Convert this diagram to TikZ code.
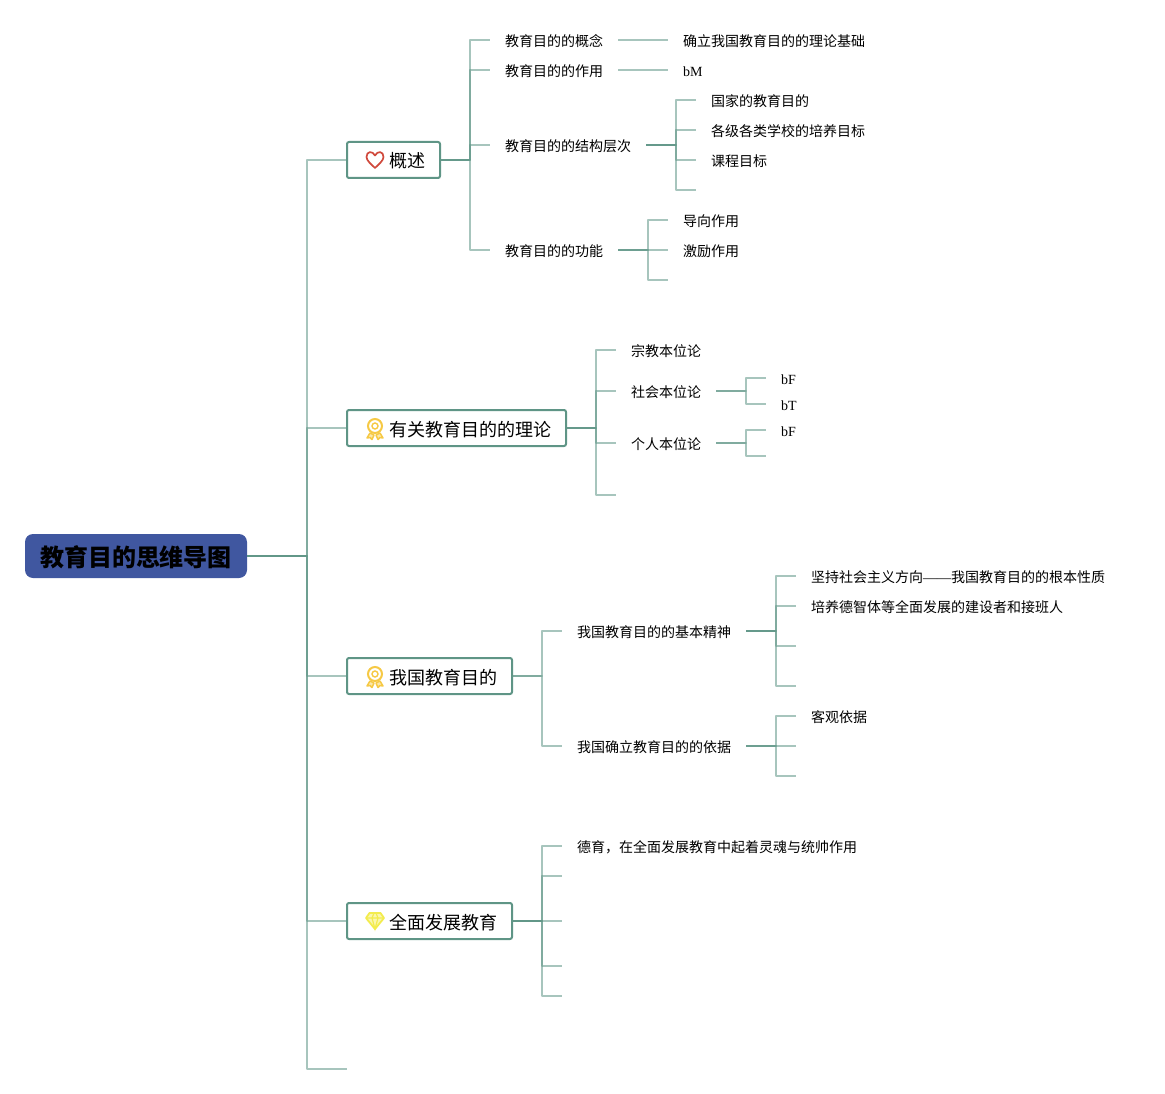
\documentclass[tikz,border=0pt]{standalone}
\usepackage{fontspec}
\setmainfont{Liberation Serif}
\newfontfamily\cjk{Noto Sans CJK SC}
\definecolor{linecol}{HTML}{5F9586}
\definecolor{rootcol}{HTML}{4057A0}
\definecolor{heartcol}{HTML}{D0493C}
\definecolor{medalcol}{HTML}{F6C945}
\definecolor{gemcol}{HTML}{F3EC4E}
\newcommand{\branches}[3]{\foreach \kid in {#3} \draw[branch] (#1.east) -- ++(#2,0) |- (\kid.west);}
\begin{document}
\begin{tikzpicture}[
	x=1pt, y=-1pt,
	branch/.style={draw=linecol, draw opacity=0.55, line width=1.5pt, line join=round},
	rootnode/.style={rectangle, fill=rootcol, rounded corners=8pt, anchor=west, minimum height=44pt, inner xsep=15pt, inner ysep=0pt, outer sep=0pt, text height=25pt, text depth=3.5pt, font=\cjk\bfseries\fontsize{24}{26}\selectfont},
	topicnode/.style={rectangle, draw=linecol, fill=white, line width=2pt, rounded corners=2pt, anchor=west, minimum height=36pt, inner xsep=15pt, inner ysep=0pt, outer sep=0pt, text height=17pt, text depth=1pt, execute at begin node={\hspace*{27pt}}, font=\cjk\fontsize{18}{20}\selectfont},
	leafnode/.style={anchor=west, inner xsep=15pt, inner ysep=0pt, outer sep=0pt, text height=14.5pt, text depth=1pt, font=\cjk\fontsize{14}{16}\selectfont},
	latinnode/.style={leafnode, font=\rmfamily\fontsize{14}{16}\selectfont},
	heart/.pic={\draw[heartcol, line width=1.7pt, line join=round] (0,8) .. controls (-4,4) and (-8.5,0.5) .. (-8.5,-3) .. controls (-8.5,-9) and (-2.5,-9.5) .. (0,-4.5) .. controls (2.5,-9.5) and (8.5,-9) .. (8.5,-3) .. controls (8.5,0.5) and (4,4) .. (0,8) -- cycle;},
	medal/.pic={\draw[medalcol, line width=2pt] (0,-3) circle (7pt);
		\draw[medalcol, line width=1.4pt] (0,-3) circle (3pt);
		\draw[medalcol, fill=medalcol!45, line width=1.5pt, line join=round] (-5,4) -- (-8,9) -- (-5,8.5) -- (-3,10.5) -- (-1,6) -- cycle;
		\draw[medalcol, fill=medalcol!45, line width=1.5pt, line join=round] (5,4) -- (8,9) -- (5,8.5) -- (3,10.5) -- (1,6) -- cycle;},
	gem/.pic={\draw[gemcol, fill=gemcol!45, line width=1.8pt, line join=round] (-5.5,-8) -- (5.5,-8) -- (9,-3) -- (0,8) -- (-9,-3) -- cycle;
		\draw[gemcol, line width=1.2pt] (-9,-3) -- (9,-3) (-3,-3) -- (0,8) -- (3,-3) (-3,-3) -- (-1,-8) (3,-3) -- (1,-8);},
	]
	
	\useasboundingbox (0,0) rectangle (1165,1094);
	
	%Nodes
	\node[rootnode]		(root)		at (25,556)		{教育目的思维导图};
	\node[topicnode]	(overview)	at (347,160)	{概述};
	\node[topicnode]	(theory)	at (347,428)	{有关教育目的的理论};
	\node[topicnode]	(ourgoal)	at (347,676)	{我国教育目的};
	\node[topicnode]	(fulldev)	at (347,921)	{全面发展教育};
	\coordinate			(tailend)	at (347,1069);
	
	\node[leafnode]		(concept)	at (490,40)		{教育目的的概念};
	\node[leafnode]		(effect)	at (490,70)		{教育目的的作用};
	\node[leafnode]		(levels)	at (490,145)	{教育目的的结构层次};
	\node[leafnode]		(function)	at (490,250)	{教育目的的功能};
	\node[leafnode]		(basis)		at (668,40)		{确立我国教育目的的理论基础};
	\node[latinnode]	(effectb)	at (668,70)		{bM};
	\node[leafnode]		(national)	at (696,100)	{国家的教育目的};
	\node[leafnode]		(school)	at (696,130)	{各级各类学校的培养目标};
	\node[leafnode]		(course)	at (696,160)	{课程目标};
	\coordinate			(levelend)	at (696,190);
	\node[leafnode]		(guide)		at (668,220)	{导向作用};
	\node[leafnode]		(inspire)	at (668,250)	{激励作用};
	\coordinate			(funcend)	at (668,280);
	
	\node[leafnode]		(religion)	at (616,350)	{宗教本位论};
	\node[leafnode]		(society)	at (616,391)	{社会本位论};
	\node[leafnode]		(person)	at (616,443)	{个人本位论};
	\coordinate			(theoryend)	at (616,495);
	\node[latinnode]	(socf)		at (766,378)	{bF};
	\node[latinnode]	(soct)		at (766,404)	{bT};
	\node[latinnode]	(perf)		at (766,430)	{bF};
	\coordinate			(perend)	at (766,456);
	
	\node[leafnode]		(spirit)	at (562,631)	{我国教育目的的基本精神};
	\node[leafnode]		(ground)	at (562,746)	{我国确立教育目的的依据};
	\node[leafnode]		(socialism)	at (796,576)	{坚持社会主义方向{\rmfamily ——}我国教育目的的根本性质};
	\node[leafnode]		(builder)	at (796,606)	{培养德智体等全面发展的建设者和接班人};
	\coordinate			(spiritc)	at (796,646);
	\coordinate			(spiritd)	at (796,686);
	\node[leafnode]		(objective)	at (796,716)	{客观依据};
	\coordinate			(groundb)	at (796,746);
	\coordinate			(groundc)	at (796,776);
	
	\node[leafnode]		(moral)		at (562,846)	{德育，在全面发展教育中起着灵魂与统帅作用};
	\coordinate			(devb)		at (562,876);
	\coordinate			(devc)		at (562,921);
	\coordinate			(devd)		at (562,966);
	\coordinate			(deve)		at (562,996);
	
	%Icons
	\pic at ([xshift=28pt]overview.west) {heart};
	\pic at ([xshift=28pt,yshift=-1pt]theory.west) {medal};
	\pic at ([xshift=28pt,yshift=-1pt]ourgoal.west) {medal};
	\pic at ([xshift=28pt]fulldev.west) {gem};
	
	%Lines
	\branches{root}{60}{overview,theory,ourgoal,fulldev,tailend}
	\branches{overview}{30}{concept,effect,levels,function}
	\branches{concept}{30}{basis}
	\branches{effect}{30}{effectb}
	\branches{levels}{30}{national,school,course,levelend}
	\branches{function}{30}{guide,inspire,funcend}
	\branches{theory}{30}{religion,society,person,theoryend}
	\branches{society}{30}{socf,soct}
	\branches{person}{30}{perf,perend}
	\branches{ourgoal}{30}{spirit,ground}
	\branches{spirit}{30}{socialism,builder,spiritc,spiritd}
	\branches{ground}{30}{objective,groundb,groundc}
	\branches{fulldev}{30}{moral,devb,devc,devd,deve}
	
\end{tikzpicture}
\end{document}
